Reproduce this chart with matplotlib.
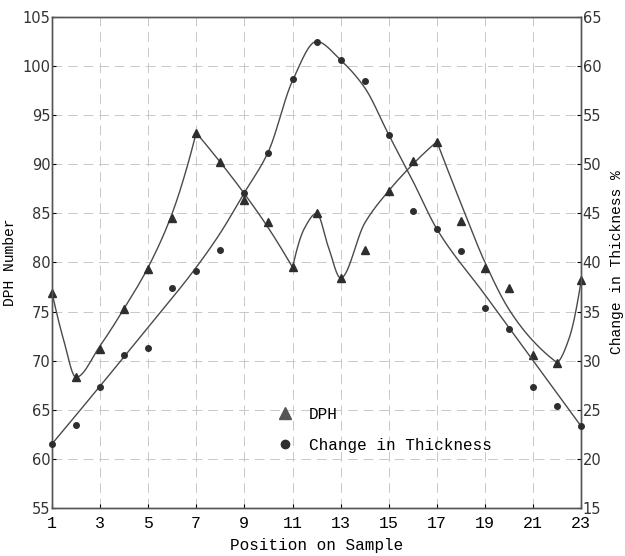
import numpy as np
import matplotlib
matplotlib.use("Agg")
import matplotlib.pyplot as plt
from matplotlib.lines import Line2D

# ---- data ----
positions = list(range(1, 24))
dph_values = [76.9, 68.3, 71.2, 75.3, 79.3, 84.5, 93.2, 90.2, 86.4, 84.1, 79.5, 85.0,
              78.4, 81.3, 87.3, 90.3, 92.3, 84.2, 79.4, 77.4, 70.6, 69.8, 78.2]
thickness_values = [21.5, 23.4, 27.3, 30.6, 31.3, 37.4, 39.1, 41.3, 47.1, 51.1, 58.7, 62.5,
                    60.6, 58.5, 53.0, 45.2, 43.4, 41.2, 35.4, 33.2, 27.3, 25.4, 23.3]

# hand-drawn fit curves (knots)
dph_curve_x = [1, 1.5, 2, 3, 4, 5, 6, 7, 8, 9, 10, 11, 11.5, 12, 12.5, 13, 14, 15, 16, 17,
               18, 19, 20, 21, 22, 22.5, 23]
dph_curve_y = [77, 72, 68.3, 71.5, 75.3, 79.5, 85, 93.2, 90.2, 87, 83.5, 79.5, 83.5, 85, 81.5,
               78.4, 84, 87.3, 90, 92.3, 86, 80, 75.2, 72, 69.8, 72.3, 78.2]
dph_curve_breaks = [7, 11, 17, 22]
thk_curve_x = [1, 3, 5, 7, 8, 9, 10, 11, 12, 13, 14, 15, 16, 17, 19, 21, 23]
thk_curve_y = [21.5, 27.4, 33.4, 39.5, 43, 47.1, 51.3, 58.5, 62.5, 60.6, 57.8, 53, 48.3,
               43.4, 36.7, 30, 23.3]

x_ticks = list(range(1, 24, 2))
left_ticks = list(range(55, 106, 5))
right_ticks = list(range(15, 66, 5))


def pchip(x, y, xs):
    x = np.asarray(x, float); y = np.asarray(y, float)
    h = np.diff(x); d = np.diff(y) / h
    n = len(x)
    m = np.zeros(n)
    if n == 2:
        m[:] = d[0]
    else:
        for k in range(1, n - 1):
            if d[k - 1] * d[k] > 0:
                w1 = 2 * h[k] + h[k - 1]; w2 = h[k] + 2 * h[k - 1]
                m[k] = (w1 + w2) / (w1 / d[k - 1] + w2 / d[k])
        m[0] = ((2 * h[0] + h[1]) * d[0] - h[0] * d[1]) / (h[0] + h[1])
        if np.sign(m[0]) != np.sign(d[0]): m[0] = 0
        m[-1] = ((2 * h[-1] + h[-2]) * d[-1] - h[-1] * d[-2]) / (h[-1] + h[-2])
        if np.sign(m[-1]) != np.sign(d[-1]): m[-1] = 0
    idx = np.clip(np.searchsorted(x, xs) - 1, 0, n - 2)
    t = (xs - x[idx]) / h[idx]
    h00 = 2 * t**3 - 3 * t**2 + 1; h10 = t**3 - 2 * t**2 + t
    h01 = -2 * t**3 + 3 * t**2; h11 = t**3 - t**2
    return h00 * y[idx] + h10 * h[idx] * m[idx] + h01 * y[idx + 1] + h11 * h[idx] * m[idx + 1]


def segmented(xk, yk, breaks):
    xk = list(xk); yk = list(yk)
    cuts = [0] + [xk.index(b) for b in breaks] + [len(xk) - 1]
    XS, YS = [], []
    for a, b in zip(cuts[:-1], cuts[1:]):
        xs = np.linspace(xk[a], xk[b], 80)
        XS.append(xs); YS.append(pchip(xk[a:b + 1], yk[a:b + 1], xs))
    return np.concatenate(XS), np.concatenate(YS)


mono = "Liberation Mono"
line_col = "#4a4a4a"
mark_col = "#2e2e2e"

fig = plt.figure(figsize=(6.25, 5.56), dpi=100)
ax = fig.add_axes([0.083, 0.0865, 0.847, 0.883])
ax2 = ax.twinx()

ax.set_xlim(1, 23)
ax.set_ylim(55, 105)
ax2.set_ylim(15, 65)

# grid
ax.set_xticks(x_ticks)
ax.set_yticks(left_ticks)
ax.grid(True, color="#c8c8c8", linestyle=(0, (10, 6)), linewidth=0.7)
ax.set_axisbelow(True)

# curves
cx, cy = segmented(dph_curve_x, dph_curve_y, dph_curve_breaks)
ax.plot(cx, cy, color=line_col, linewidth=1.0, zorder=3)
tx = np.linspace(1, 23, 400)
ax2.plot(tx, pchip(thk_curve_x, thk_curve_y, tx), color=line_col, linewidth=1.0, zorder=3)

# points
ax.plot(positions, dph_values, linestyle="none", marker="^", markersize=6,
        color=mark_col, zorder=4, clip_on=False)
ax2.plot(positions, thickness_values, linestyle="none", marker="o", markersize=4,
         color=mark_col, zorder=4, clip_on=False)

# ticks & labels
ax.set_xticklabels([str(v) for v in x_ticks], fontfamily=mono, fontsize=12)
ax.set_yticklabels([str(v) for v in left_ticks], fontfamily="DejaVu Sans", fontsize=10.5,
                   color="#333333")
ax2.set_yticks(right_ticks)
ax2.set_yticklabels([str(v) for v in right_ticks], fontfamily="DejaVu Sans", fontsize=10.5,
                    color="#333333")
ax.tick_params(axis="both", length=3, direction="in", pad=1)
ax.tick_params(axis="x", pad=6)
ax2.tick_params(axis="y", length=3, direction="in", pad=1)

ax.set_xlabel("Position on Sample", fontfamily=mono, fontsize=11.5, labelpad=5)
ax.set_ylabel("DPH Number", fontfamily=mono, fontsize=10.5, labelpad=4)
ax2.set_ylabel("Change in Thickness %", fontfamily=mono, fontsize=10.5, labelpad=6)

for a in (ax, ax2):
    for s in a.spines.values():
        s.set_color("#555555")
        s.set_linewidth(1.0)

handles = [
    Line2D([], [], linestyle="none", marker="^", markersize=9, color="#555555"),
    Line2D([], [], linestyle="none", marker="o", markersize=6, color=mark_col),
]
leg = ax.legend(handles, ["DPH", "Change in Thickness"], loc="upper left",
                bbox_to_anchor=(0.395, 0.235), frameon=False,
                prop={"family": mono, "size": 11.5}, labelspacing=1.0,
                handletextpad=0.9, handlelength=1.2)
leg.set_zorder(5)

fig.savefig("out.png", dpi=100)
